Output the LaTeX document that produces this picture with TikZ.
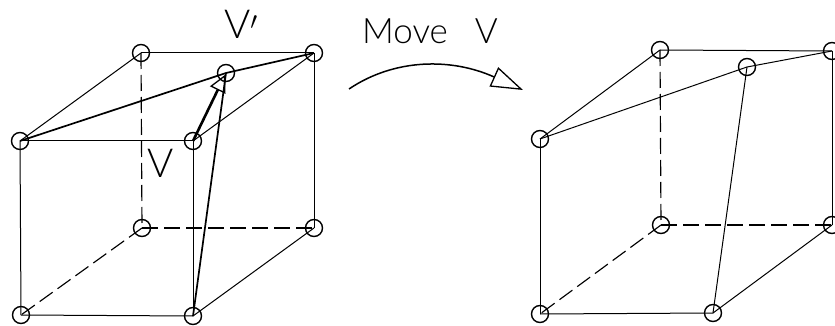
\documentclass[tikz,border=0pt]{standalone}
\usepackage{fontspec}
\setmainfont[UprightFont=* Light]{Lato}
\usetikzlibrary{arrows.meta,calc}
\tikzset{
  x=1pt,y=-1pt,
  vertex/.style={circle,draw=black,line width=1.4pt,minimum size=17pt,inner sep=0pt,fill=none},
  edge/.style={draw=black,line width=1pt},
  bold edge/.style={draw=black,line width=1.7pt},
  hidden/.style={draw=black,line width=1.15pt,dash pattern=on 16pt off 6pt},
  label/.style={inner sep=0pt,anchor=base west,font=\fontsize{40}{40}\selectfont},
  biglabel/.style={inner sep=0pt,anchor=base west,font=\fontsize{35}{35}\selectfont},
}
\begin{document}
\begin{tikzpicture}
\useasboundingbox (0,0) rectangle (835,326);
% left cube
\node[vertex] (a1) at (141,53) {};
\node[vertex] (a2) at (314,53) {};
\node[vertex] (a3) at (20,141) {};
\node[vertex] (a4) at (193,141) {};
\node[vertex] (a5) at (142,228) {};
\node[vertex] (a6) at (314,228) {};
\node[vertex] (a7) at (21,315) {};
\node[vertex] (a8) at (193,316) {};
\node[vertex] (av) at (226,73) {};
\draw[edge] (a1.center) -- (a2.center);
\draw[edge] (a1.center) -- (a3.center);
\draw[edge] (a2.center) -- (a4.center);
\draw[edge] (a3.center) -- (a4.center);
\draw[edge] (a2.center) -- (a6.center);
\draw[edge] (a3.center) -- (a7.center);
\draw[edge] (a4.center) -- (a8.center);
\draw[edge] (a6.center) -- (a8.center);
\draw[edge] (a7.center) -- (a8.center);
\draw[hidden] (a1.center) -- (a5.center);
\draw[hidden] (a5.center) -- (a6.center);
\draw[hidden] (a5.center) -- (a7.center);
\draw[bold edge] (a3.center) -- (av.center);
\draw[bold edge] (av.center) -- (a2.center);
\draw[bold edge] (av.center) -- (a8.center);
\draw[draw=black,line width=2.6pt,shorten >=2pt,-{Triangle[open,length=17pt,width=17pt,line width=1.3pt]}] (a4.center) -- (av.center);
\node[label] (vp) at (224,39) {V$'$};
\node[label] (v) at (147,177) {V};
% move label and arrow
\node[biglabel] (mv) at (362,44) {Move\hspace{27pt}V};
\coordinate (c1) at (349,89);
\coordinate (c2) at (523,90);
\draw[draw=black,line width=1.5pt,-{Triangle[open,length=32pt,width=21pt,line width=1.3pt]}] (c1) .. controls (395,58) and (452,58) .. (c2);
% right cube
\node[vertex] (b1) at (660,50) {};
\node[vertex] (b2) at (832,51) {};
\node[vertex] (b3) at (540,139) {};
\node[vertex] (b5) at (661,225) {};
\node[vertex] (b6) at (832,225) {};
\node[vertex] (b7) at (540,314) {};
\node[vertex] (b8) at (713,313) {};
\node[vertex] (bv) at (747,67) {};
\draw[edge] (b1.center) -- (b2.center);
\draw[edge] (b1.center) -- (b3.center);
\draw[edge] (b3.center) -- (bv.center);
\draw[edge] (bv.center) -- (b2.center);
\draw[edge] (bv.center) -- (b8.center);
\draw[edge] (b2.center) -- (b6.center);
\draw[edge] (b3.center) -- (b7.center);
\draw[edge] (b6.center) -- (b8.center);
\draw[edge] (b7.center) -- (b8.center);
\draw[hidden] (b1.center) -- (b5.center);
\draw[hidden] (b5.center) -- (b6.center);
\draw[hidden] (b5.center) -- (b7.center);
\end{tikzpicture}
\end{document}
